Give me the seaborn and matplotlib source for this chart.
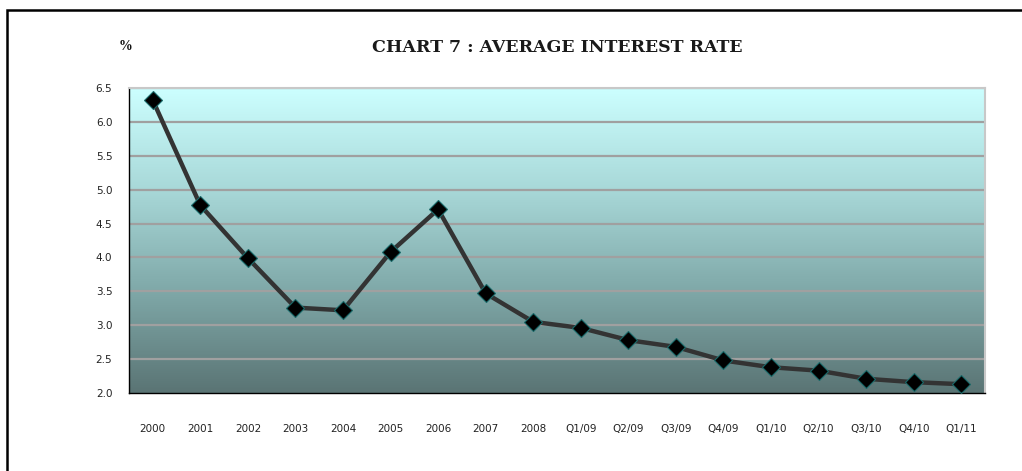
import numpy as np
import pandas as pd
import matplotlib
matplotlib.use("Agg")
import matplotlib.pyplot as plt
from matplotlib.colors import LinearSegmentedColormap
from matplotlib.patches import Rectangle
import seaborn as sns

categories = ["2000", "2001", "2002", "2003", "2004", "2005", "2006", "2007", "2008",
              "Q1/09", "Q2/09", "Q3/09", "Q4/09", "Q1/10", "Q2/10", "Q3/10", "Q4/10", "Q1/11"]
rates = [6.32, 4.77, 3.99, 3.26, 3.22, 4.08, 4.71, 3.47, 3.05,
         2.96, 2.78, 2.68, 2.48, 2.38, 2.33, 2.21, 2.16, 2.13]
yticks = [2.0, 2.5, 3.0, 3.5, 4.0, 4.5, 5.0, 5.5, 6.0, 6.5]

sns.set_style("white")
plt.rcParams['font.family'] = ['DejaVu Sans']

df = pd.DataFrame({"pos": np.arange(len(categories)), "rate": rates})

fig = plt.figure(figsize=(10.22, 4.71), dpi=100)
ax = fig.add_axes([129/1022, 78/471, (985-129)/1022, (393-88)/471])

# gradient background (light cyan at top, dark slate at bottom)
cmap = LinearSegmentedColormap.from_list("bg", ["#ccffff", "#a8d8d8", "#7fa8a8", "#5a7474"])
grad = np.linspace(0, 1, 256).reshape(-1, 1)
ax.imshow(grad, cmap=cmap, aspect="auto", extent=[0, 1, 0, 1],
          transform=ax.transAxes, zorder=0)

for y in yticks[1:]:
    ax.axhline(y, color="#a0a0a0", lw=1.6, zorder=1)

sns.lineplot(data=df, x="pos", y="rate", ax=ax, color="#333333", lw=3.2,
             marker="D", markersize=9, markerfacecolor="black",
             markeredgecolor="#1a6a6a", markeredgewidth=0.8, zorder=3)

ax.set_xlim(-0.5, len(categories) - 0.5)
ax.set_ylim(2.0, 6.5)
ax.set_yticks(yticks)
ax.set_yticklabels([f"{v:.1f}" for v in yticks], fontsize=7.5, color="#222222")
ax.set_xticks(np.arange(len(categories)))
ax.set_xticklabels(categories, fontsize=7.5, color="#222222")
ax.set_xticks(np.arange(-0.5, len(categories)), minor=True)
ax.tick_params(axis="x", which="major", length=0, pad=22)
ax.tick_params(axis="x", which="minor", length=6, width=1, color="black", direction="out")
ax.tick_params(axis="y", length=6, width=1, color="black", direction="out", pad=6)
ax.set_xlabel("")
ax.set_ylabel("")

for side in ["left", "bottom"]:
    ax.spines[side].set_color("black")
    ax.spines[side].set_linewidth(1.0)
for side in ["top", "right"]:
    ax.spines[side].set_color("#c8c8c8")
    ax.spines[side].set_linewidth(1.5)

fig.text(557/1022, 1 - 47/471, "CHART 7 : AVERAGE INTEREST RATE",
         ha="center", va="center", fontsize=12.5, family="DejaVu Serif",
         fontweight="bold", color="#1a1a1a")
fig.text(125/1022, 1 - 47/471, "%", ha="center", va="center", fontsize=10,
         family="Liberation Serif", fontweight="bold", color="#111111")

fig.patches.append(Rectangle((7/1022, -0.05), 1.2, 1 - 10/471 + 0.05,
                             transform=fig.transFigure, fill=False,
                             edgecolor="black", lw=1.8))

fig.savefig("out.png", dpi=100)
